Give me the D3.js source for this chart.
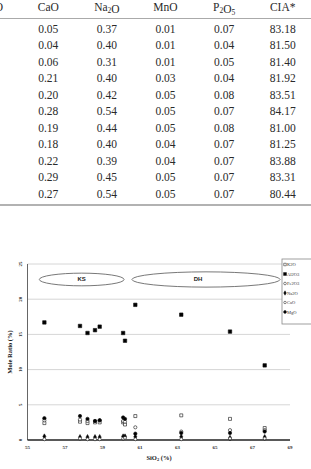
<!DOCTYPE html>
<html>
<head>
<meta charset="utf-8">
<script src="https://cdn.jsdelivr.net/npm/d3@7"></script>
<style>
  body { margin: 0; background: #fff; }
  svg { display: block; font-family: "Liberation Serif", "DejaVu Serif", serif; }
</style>
</head>
<body>
<svg id="fig"></svg>
<script>
// table (right part of the oxide table)
const tableHead = ["CaO", "Na_2O", "MnO", "P_2O_5", "CIA*"];
const CaO_wt = [0.05, 0.04, 0.06, 0.21, 0.20, 0.28, 0.19, 0.18, 0.22, 0.29, 0.27];
const Na2O_wt = [0.37, 0.40, 0.31, 0.40, 0.42, 0.54, 0.44, 0.40, 0.39, 0.45, 0.54];
const MnO_wt = [0.01, 0.01, 0.01, 0.03, 0.05, 0.05, 0.05, 0.04, 0.04, 0.05, 0.05];
const P2O5_wt = [0.07, 0.04, 0.05, 0.04, 0.08, 0.07, 0.08, 0.07, 0.07, 0.07, 0.07];
const CIA = [83.18, 81.50, 81.40, 81.92, 83.51, 84.17, 81.00, 81.25, 83.88, 83.31, 80.44];

// chart: mole ratio vs SiO2
const SiO2 = [55.9, 57.8, 58.2, 58.6, 58.85, 60.1, 60.2, 60.75, 63.2, 65.8, 67.65];
const K2O = [2.4, 2.6, 2.4, 2.5, 2.5, 2.5, 2.2, 3.4, 3.5, 3.0, 1.7];
const Al2O3 = [16.7, 16.2, 15.2, 15.6, 16.1, 15.2, 14.1, 19.2, 17.8, 15.4, 10.6];
const Fe2O3 = [2.8, 2.9, 2.7, 2.7, 2.8, 2.7, 2.6, 1.8, 1.2, 1.4, 1.4];
const Na2O = [0.5, 0.4, 0.4, 0.4, 0.4, 0.5, 0.5, 0.45, 0.45, 0.3, 0.4];
const CaO = [0.1, 0.2, 0.1, 0.1, 0.1, 0.2, 0.3, 0.1, 0.1, 0.2, 0.2];
const MgO = [3.1, 3.4, 3.0, 2.7, 2.8, 3.2, 3.0, 0.9, 1.0, 1.0, 1.2];
const xTicks = [55, 57, 59, 61, 63, 65, 67, 69];
const yTicks = [0, 5, 10, 15, 20, 25];
const groups = ["KS", "DH"];
const groupX0 = [55.63, 60.57];
const groupX1 = [60.15, 68.47];
const groupY = [21.9, 23.7];

const W = 311, H = 469;
const svg = d3.select("#fig").attr("width", W).attr("height", H);

// ---------- table ----------
const tcols = [CaO_wt, Na2O_wt, MnO_wt, P2O5_wt, CIA];
const colX = d3.scaleLinear().domain([0, 4]).range([48.3, 282.7]);
const rowY = d3.scaleLinear().domain([0, 10]).range([33, 197.5]);
const tab = svg.append("g").attr("fill", "#2a2a2a").attr("font-size", 11.5);

// cut-off end of the previous column header
tab.append("text").attr("x", 3).attr("y", 11).attr("text-anchor", "end").text("MgO");

tableHead.forEach((h, i) => {
  const t = tab.append("text").attr("x", colX(i)).attr("y", 11).attr("text-anchor", "middle");
  h.split(/(_\d)/).filter(s => s).forEach(p => {
    if (p[0] === "_") {
      t.append("tspan").attr("font-size", 7.5).attr("dy", 2).text(p.slice(1));
      t.append("tspan").attr("dy", -2).text("");
    } else {
      t.append("tspan").text(p);
    }
  });
});
svg.append("line").attr("x1", 0).attr("x2", W).attr("y1", 18.5).attr("y2", 18.5)
  .attr("stroke", "#aaa").attr("stroke-width", 1);

tcols.forEach((c, i) => {
  tab.selectAll(null).data(c).enter().append("text")
    .attr("x", colX(i)).attr("y", (d, j) => rowY(j))
    .attr("text-anchor", "middle")
    .text(d => d.toFixed(2));
});
svg.append("line").attr("x1", 0).attr("x2", W).attr("y1", 205).attr("y2", 205)
  .attr("stroke", "#999").attr("stroke-width", 1.5);

// ---------- chart ----------
const x = d3.scaleLinear().domain([55, 69]).range([27.5, 290]);
const y = d3.scaleLinear().domain([0, 25]).range([440, 264]);

svg.append("g").selectAll("line").data(yTicks.slice(1)).enter().append("line")
  .attr("x1", x(55)).attr("x2", x(69))
  .attr("y1", d => y(d)).attr("y2", d => y(d))
  .attr("stroke", "#d6d6d6").attr("stroke-width", 1);

svg.append("line").attr("x1", x(55)).attr("x2", x(55)).attr("y1", y(25)).attr("y2", y(0))
  .attr("stroke", "#666").attr("stroke-width", 1);
svg.append("line").attr("x1", x(55)).attr("x2", x(69)).attr("y1", y(0)).attr("y2", y(0))
  .attr("stroke", "#222").attr("stroke-width", 1.5);

svg.append("g").selectAll("text").data(xTicks).enter().append("text")
  .attr("x", d => x(d)).attr("y", 449)
  .attr("text-anchor", "middle").attr("font-size", 5).attr("font-weight", "bold")
  .attr("fill", "#333").text(d => d);

svg.append("g").selectAll("text").data(yTicks).enter().append("text")
  .attr("transform", d => `translate(21.5,${y(d)}) rotate(-90)`)
  .attr("text-anchor", "middle").attr("font-size", 5).attr("font-weight", "bold")
  .attr("fill", "#333").text(d => d);

svg.append("text").attr("transform", "translate(12,352) rotate(-90)")
  .attr("text-anchor", "middle").attr("font-size", 6.5).attr("font-weight", "bold")
  .attr("fill", "#222").text("Mole Ratio (%)");

const xl = svg.append("text").attr("x", 159).attr("y", 459.5)
  .attr("text-anchor", "middle").attr("font-size", 6.5).attr("font-weight", "bold").attr("fill", "#222");
xl.append("tspan").text("SiO");
xl.append("tspan").attr("font-size", 4.5).attr("dy", 1.5).text("2");
xl.append("tspan").attr("dy", -1.5).text(" (%)");

// group ellipses
groups.forEach((g, i) => {
  const cx = (x(groupX0[i]) + x(groupX1[i])) / 2;
  const cy = (y(groupY[0]) + y(groupY[1])) / 2;
  svg.append("ellipse").attr("cx", cx).attr("cy", cy)
    .attr("rx", (x(groupX1[i]) - x(groupX0[i])) / 2)
    .attr("ry", (y(groupY[0]) - y(groupY[1])) / 2 + (i ? 1.3 : 0))
    .attr("fill", "#fff").attr("stroke", "#555").attr("stroke-width", 0.8);
  svg.append("text").attr("x", i ? cx - 8 : cx).attr("y", cy + 2)
    .attr("text-anchor", "middle").attr("font-size", 6).attr("font-weight", "bold")
    .attr("font-family", "Liberation Sans, sans-serif").attr("fill", "#222").text(g);
});

const series = [
  { name: "K2O", v: K2O, sym: d3.symbolSquare, size: 9, fill: "#fff" },
  { name: "Al2O3", v: Al2O3, sym: d3.symbolSquare, size: 12, fill: "#000" },
  { name: "Fe2O3", v: Fe2O3, sym: d3.symbolCircle, size: 8, fill: "#fff" },
  { name: "Na2O", v: Na2O, sym: d3.symbolDiamond, size: 8, fill: "#000" },
  { name: "CaO", v: CaO, sym: d3.symbolCircle, size: 7, fill: "#fff" },
  { name: "MgO", v: MgO, sym: d3.symbolCircle, size: 9, fill: "#000" }
];

series.forEach(s => {
  svg.append("g").selectAll("path").data(s.v).enter().append("path")
    .attr("transform", (d, i) => `translate(${x(SiO2[i])},${y(d)})`)
    .attr("d", d3.symbol().type(s.sym).size(s.size))
    .attr("fill", s.fill).attr("stroke", "#111").attr("stroke-width", 0.6);
});

// legend
const lg = svg.append("g").attr("transform", "translate(282,259)");
lg.append("rect").attr("width", 40).attr("height", 65)
  .attr("fill", "#fff").attr("stroke", "#888").attr("stroke-width", 0.8);
const ly = d3.scaleLinear().domain([0, 5]).range([5.5, 53]);
series.forEach((s, i) => {
  lg.append("path").attr("transform", `translate(3,${ly(i)})`)
    .attr("d", d3.symbol().type(s.sym).size(s.size * 0.7))
    .attr("fill", s.fill).attr("stroke", "#111").attr("stroke-width", 0.5);
  lg.append("text").attr("x", 5).attr("y", ly(i) + 1.6)
    .attr("font-size", 4.5).attr("fill", "#333").text(s.name);
});
</script>
</body>
</html>
